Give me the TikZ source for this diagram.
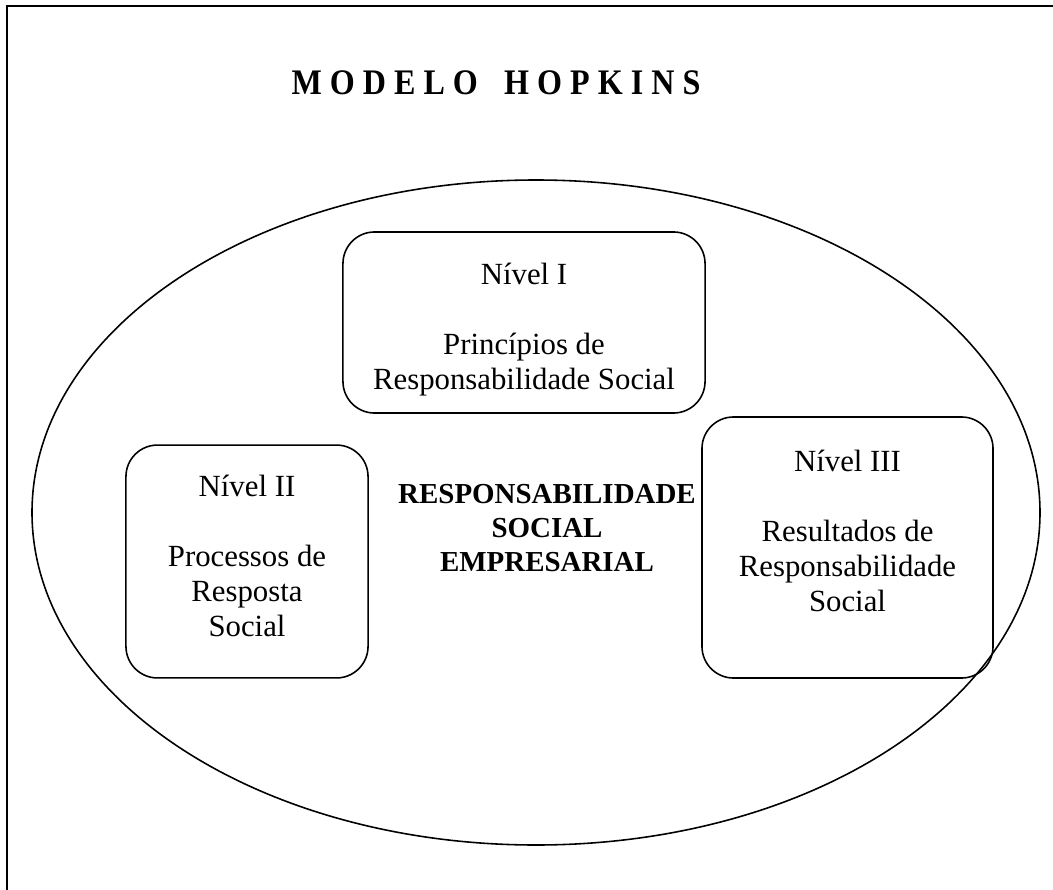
\documentclass[tikz,border=0pt]{standalone}
\usepackage{fontspec}
\setmainfont{Liberation Serif}
\usetikzlibrary{positioning}

\begin{document}
\begin{tikzpicture}[x=0.38pt, y=-0.38pt,
    level/.style={draw, line width=0.6pt, rounded corners=12pt, inner sep=0pt},
    leveltext/.style={align=center, inner sep=0pt, font=\fontsize{11.7pt}{13.3pt}\selectfont},
    core/.style={align=center, inner sep=0pt, font=\fontsize{11pt}{13pt}\selectfont\bfseries}]
    \path[use as bounding box, clip] (0,0) rectangle (1053,890);

    % Frame and outer ellipse
    \draw[line width=0.9pt] (7,6) rectangle (1080,920);
    \draw[line width=0.6pt] (536,512.5) ellipse [x radius=504, y radius=332.5];

    % Title
    \node[anchor=base, font=\fontsize{12.2pt}{15pt}\selectfont\bfseries] (title) at (496,95)
        {\scalebox{1}[1.12]{M O D E L O\hspace{10pt}H O P K I N S}};

    % Define levels
    \node[level, minimum width=137.6pt, minimum height=68.8pt] (n1) at (524,322.5) {};
    \node[level, minimum width=92pt, minimum height=88.5pt] (n2) at (247,561.5) {};
    \node[level, minimum width=110.6pt, minimum height=99.2pt] (n3) at (847.5,547.5) {};

    % Define texts
    \node[leveltext, below=11.8pt of n1.north] (t1) {Nível I\\[13.3pt]Princípios de\\Responsabilidade Social};
    \node[leveltext, below=11.4pt of n2.north] (t2) {Nível II\\[13.3pt]Processos de\\Resposta\\Social};
    \node[leveltext, below=12.5pt of n3.north] (t3) {Nível III\\[13.3pt]Resultados de\\Responsabilidade\\Social};
    \node[core] (rse) at (547,528) {RESPONSABILIDADE\\SOCIAL\\EMPRESARIAL};
\end{tikzpicture}
\end{document}
